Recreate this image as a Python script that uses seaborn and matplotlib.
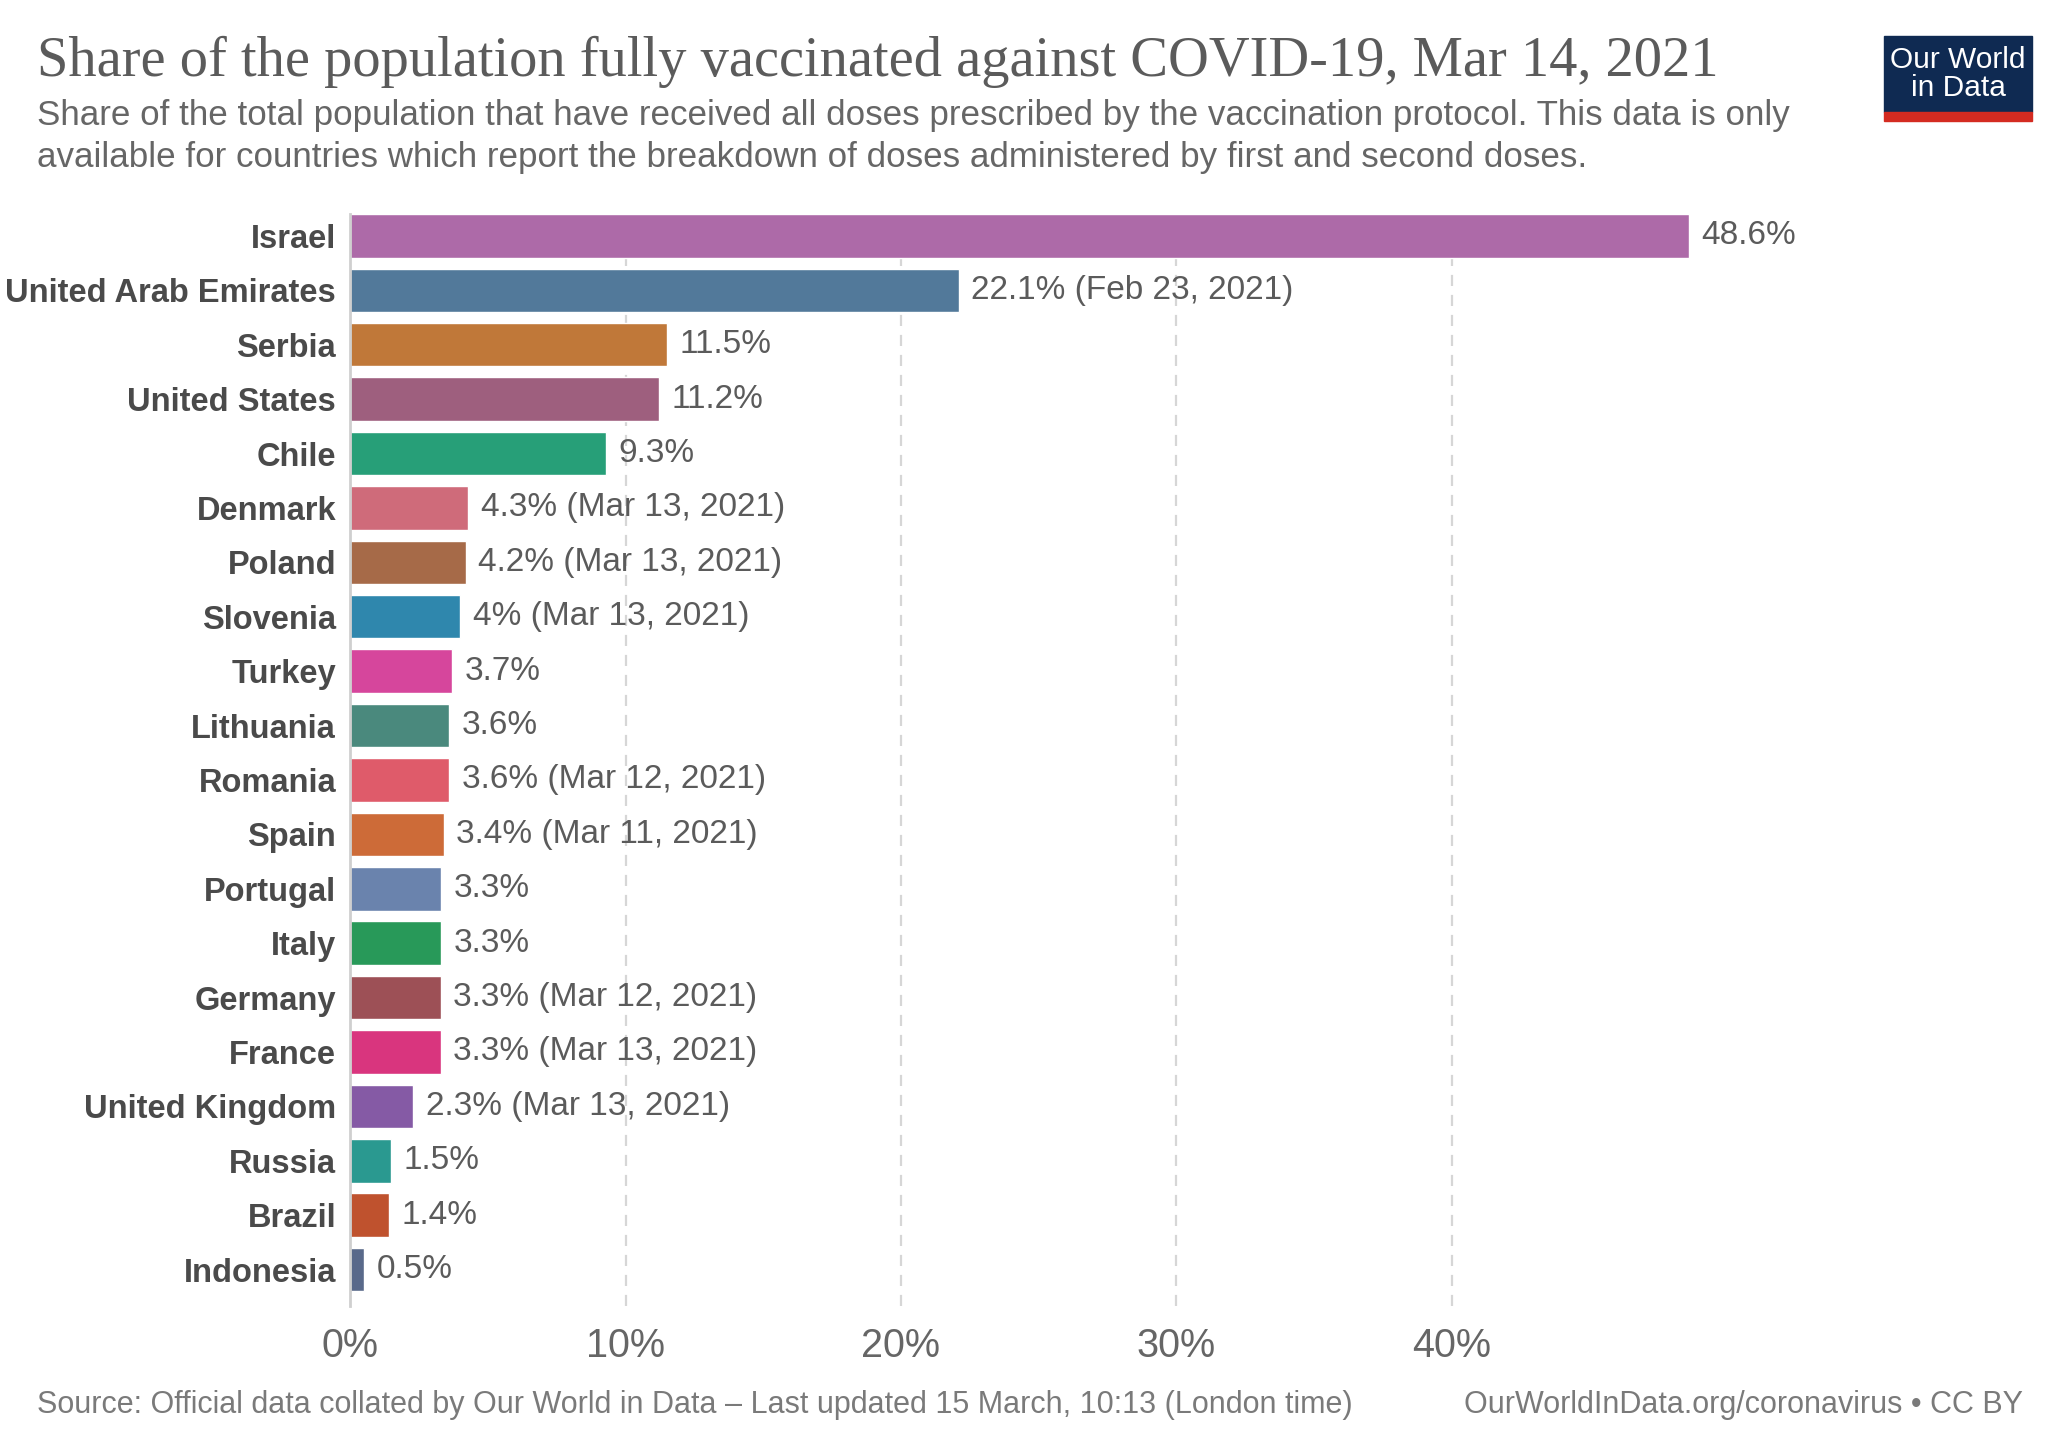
import matplotlib
matplotlib.use("Agg")
import matplotlib.pyplot as plt
import matplotlib.patches as mpatches
import seaborn as sns
import pandas as pd

countries = ["Israel", "United Arab Emirates", "Serbia", "United States", "Chile",
             "Denmark", "Poland", "Slovenia", "Turkey", "Lithuania", "Romania",
             "Spain", "Portugal", "Italy", "Germany", "France", "United Kingdom",
             "Russia", "Brazil", "Indonesia"]
shares = [48.6, 22.1, 11.5, 11.2, 9.3, 4.3, 4.2, 4.0, 3.7, 3.6, 3.6,
          3.4, 3.3, 3.3, 3.3, 3.3, 2.3, 1.5, 1.4, 0.5]
share_text = ["48.6%", "22.1%", "11.5%", "11.2%", "9.3%", "4.3%", "4.2%", "4%",
              "3.7%", "3.6%", "3.6%", "3.4%", "3.3%", "3.3%", "3.3%", "3.3%",
              "2.3%", "1.5%", "1.4%", "0.5%"]
dates = ["", "Feb 23, 2021", "", "", "", "Mar 13, 2021", "Mar 13, 2021",
         "Mar 13, 2021", "", "", "Mar 12, 2021", "Mar 11, 2021", "", "",
         "Mar 12, 2021", "Mar 13, 2021", "Mar 13, 2021", "", "", ""]
bar_colors = ["#ad6aa8", "#52799a", "#c07839", "#9e5f7e", "#279f78", "#cf6b7a",
              "#a66a48", "#2f87ad", "#d6469c", "#4a897d", "#df5b6a", "#cd6b38",
              "#6a83ad", "#289959", "#9d5056", "#d9357e", "#855aa5", "#2a9990",
              "#bf522e", "#59698a"]
x_ticks = [0, 10, 20, 30, 40]

title = "Share of the population fully vaccinated against COVID-19, Mar 14, 2021"
subtitle = ["Share of the total population that have received all doses prescribed by the vaccination protocol. This data is only",
            "available for countries which report the breakdown of doses administered by first and second doses."]
source = "Source: Official data collated by Our World in Data \u2013 Last updated 15 March, 10:13 (London time)"
credit = "OurWorldInData.org/coronavirus \u2022 CC BY"

df = pd.DataFrame({"country": countries, "share": shares})

sns.set_style("white")
plt.rcParams["font.family"] = ["Liberation Sans", "DejaVu Sans"]

fig = plt.figure(figsize=(20.48, 14.46), dpi=100)
ax = fig.add_axes([0.1709, 0.0968, 0.6726, 0.7551])

sns.barplot(data=df, x="share", y="country", hue="country", palette=bar_colors,
            saturation=1, width=0.8, legend=False, orient="h", ax=ax)

labels = [t if d == "" else f"{t} ({d})" for t, d in zip(share_text, dates)]
for cont, lab in zip(ax.containers, labels):
    ax.bar_label(cont, labels=[lab], padding=9, fontsize=24, color="#5b5b5b")

ax.set_xlim(0, 50)
ax.set_ylim(19.67, -0.4)
ax.set_xticks(x_ticks)
ax.set_xticklabels([f"{t}%" for t in x_ticks], fontsize=28.5, color="#666666")
ax.tick_params(axis="x", length=0, pad=15)
ax.tick_params(axis="y", length=0, pad=10)
for lab in ax.get_yticklabels():
    lab.set_fontsize(23.5)
    lab.set_fontweight("bold")
    lab.set_color("#4a4a4a")
ax.set_xlabel("")
ax.set_ylabel("")
for t in x_ticks[1:]:
    ax.axvline(t, color="#d6d6d6", lw=1.6, ls=(0, (5, 4)), zorder=0)
for s in ["top", "right", "bottom"]:
    ax.spines[s].set_visible(False)
ax.spines["left"].set_color("#cfcfcf")
ax.spines["left"].set_linewidth(2)

fig.text(0.018, 0.957, title, family=["Liberation Serif", "DejaVu Serif"],
         fontsize=40.7, color="#5b5b5b", va="center")
fig.text(0.018, 1 - 115 / 1446, subtitle[0], fontsize=25.2, color="#666666", va="center")
fig.text(0.018, 1 - 157 / 1446, subtitle[1], fontsize=25.2, color="#666666", va="center")
fig.text(0.018, 0.0285, source, fontsize=22, color="#7a7a7a", va="center")
fig.text(0.988, 0.0285, credit, fontsize=22, color="#7a7a7a", va="center", ha="right")

# logo
fig.patches.append(mpatches.Rectangle((1884 / 2048, 1 - 112 / 1446), 148 / 2048, 76 / 1446,
                                      transform=fig.transFigure, color="#0f2a52"))
fig.patches.append(mpatches.Rectangle((1884 / 2048, 1 - 121 / 1446), 148 / 2048, 9 / 1446,
                                      transform=fig.transFigure, color="#d42b21"))
fig.text(1958 / 2048, 1 - 74 / 1446, "Our World\nin Data", fontsize=21.5, color="white",
         ha="center", va="center", linespacing=1.0)

fig.savefig("out.png", dpi=100)
